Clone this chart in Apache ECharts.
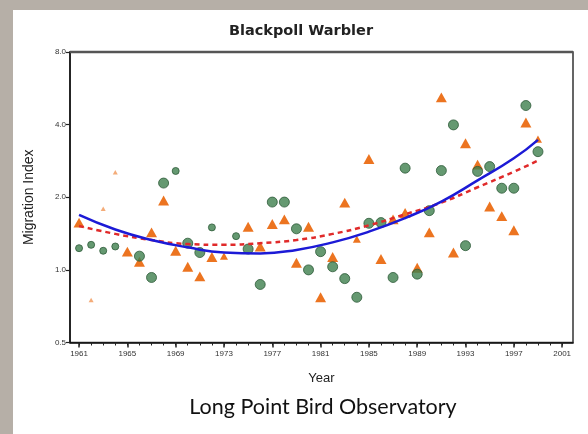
<!DOCTYPE html>
<html>
<head>
<meta charset="utf-8">
<script src="https://cdn.jsdelivr.net/npm/echarts@6/dist/echarts.min.js"></script>
<style>
html,body{margin:0;padding:0;background:#b6afa7;}
#chart{width:588px;height:434px;}
</style>
</head>
<body>
<div id="chart"></div>
<script>
// ---- data ----
const greenYears  = [1961,1962,1963,1964,1966,1967,1968,1969,1970,1971,1972,1974,1975,1976,1977,1978,1979,1980,1981,1982,1983,1984,1985,1986,1987,1988,1989,1990,1991,1992,1993,1994,1995,1996,1997,1998,1999];
const greenValues = [1.23,1.27,1.20,1.25,1.14,0.93,2.29,2.57,1.29,1.18,1.50,1.38,1.22,0.87,1.91,1.91,1.48,1.00,1.19,1.03,0.92,0.77,1.56,1.57,0.93,2.64,0.96,1.76,2.58,3.99,1.26,2.56,2.68,2.18,2.18,4.80,3.09];
const greenWeight = [2,2,2,2,3,3,3,2,3,3,2,2,3,3,3,3,3,3,3,3,3,3,3,3,3,3,3,3,3,3,3,3,3,3,3,3,3];

const orangeYears  = [1961,1962,1963,1964,1965,1966,1967,1968,1969,1970,1971,1972,1973,1975,1976,1977,1978,1979,1980,1981,1982,1983,1984,1985,1986,1987,1988,1989,1990,1991,1992,1993,1994,1995,1996,1997,1998,1999];
const orangeValues = [1.57,0.75,1.79,2.54,1.19,1.08,1.43,1.94,1.20,1.03,0.94,1.13,1.14,1.51,1.25,1.55,1.62,1.07,1.51,0.77,1.13,1.90,1.34,2.88,1.11,1.62,1.72,1.02,1.43,5.19,1.18,3.35,2.73,1.83,1.67,1.46,4.08,3.48];
const orangeWeight = [3,1,1,1,3,3,3,3,3,3,3,3,2,3,3,3,3,3,3,3,3,3,2,3,3,3,3,3,3,3,3,3,3,3,3,3,3,2];

const blueYears  = [1961,1964,1967,1970,1973,1976,1979,1982,1985,1988,1991,1994,1997,1999];
const blueValues = [1.69,1.47,1.33,1.24,1.18,1.17,1.21,1.30,1.44,1.64,1.92,2.35,2.90,3.46];
const redYears   = [1961,1964,1967,1970,1973,1976,1979,1982,1985,1988,1991,1994,1997,1999];
const redValues  = [1.52,1.41,1.33,1.28,1.27,1.29,1.33,1.41,1.53,1.70,1.90,2.20,2.55,2.84];

const xTickYears  = Array.from({length: 41}, (_, i) => 1961 + i);
const xLabelYears = [1961,1965,1969,1973,1977,1981,1985,1989,1993,1997,2001];
const yTicks      = [0.5,1,2,4,8];

const titleText  = 'Blackpoll Warbler';
const sourceText = 'Long Point Bird Observatory';
const xName = 'Year';
const yName = 'Migration Index';

// ---- chart ----
const chart = echarts.init(document.getElementById('chart'), null, {renderer: 'canvas'});
const zip = (xs, ys) => xs.map((x, i) => [x, ys[i]]);
const gSize = [0, 5, 7, 10];
const oSize = [0, 5, 8, 11];

const option = {
  animation: false,
  backgroundColor: '#b6afa7',
  graphic: [{
    type: 'rect', z: -10, silent: true,
    shape: {x: 13, y: 10, width: 575, height: 424},
    style: {fill: '#ffffff'}
  }, {
    type: 'line', z: 10, silent: true,
    shape: {x1: 70, y1: 52, x2: 573, y2: 52},
    style: {stroke: '#555', lineWidth: 2.5}
  }],
  title: [{
    text: titleText, left: 296, top: 19, textAlign: 'center',
    textStyle: {fontFamily: 'DejaVu Sans', fontWeight: 'bold', fontSize: 14.5, color: '#222'}
  }, {
    text: sourceText, left: 318, top: 391, textAlign: 'center',
    textStyle: {fontFamily: 'Lato', fontWeight: 'normal', fontSize: 21.5, color: '#111'}
  }],
  grid: {
    left: 70, right: 15, top: 52, bottom: 91.5,
    show: true, borderColor: '#333', borderWidth: 1.5, backgroundColor: 'transparent'
  },
  xAxis: [{
    type: 'value', min: 1960.25, max: 2001.9,
    name: xName, nameLocation: 'middle', nameGap: 29,
    nameTextStyle: {fontFamily: 'Liberation Sans', fontSize: 13, color: '#222'},
    axisLine: {show: true, lineStyle: {color: '#111', width: 1.5}},
    axisTick: {show: true, customValues: xTickYears, length: 3, lineStyle: {color: '#222', width: 1}},
    axisLabel: {show: true, customValues: xLabelYears, fontFamily: 'Liberation Sans', fontSize: 8, color: '#333', margin: 7,
      formatter: v => String(Math.round(v))},
    splitLine: {show: false}
  }, {
    type: 'value', min: 1960.25, max: 2001.9, position: 'bottom', gridIndex: 0,
    axisLine: {show: false},
    axisTick: {show: true, customValues: xLabelYears, length: 5, lineStyle: {color: '#222', width: 1.5}},
    axisLabel: {show: false},
    splitLine: {show: false}
  }],
  yAxis: {
    type: 'log', logBase: 2, min: 0.5, max: 8,
    name: yName, nameLocation: 'middle', nameGap: 34, nameRotate: 90,
    nameTextStyle: {fontFamily: 'Liberation Sans', fontSize: 14, color: '#222'},
    axisLine: {show: true, lineStyle: {color: '#111', width: 1.5}},
    axisTick: {show: true, customValues: yTicks, length: 4, lineStyle: {color: '#222', width: 1.2}},
    axisLabel: {show: true, customValues: yTicks, fontFamily: 'Liberation Sans', fontSize: 8, color: '#333', margin: 4,
      formatter: v => Number(v).toFixed(1)},
    splitLine: {show: false}
  },
  series: [{
    type: 'scatter', name: 'orange', symbol: 'triangle',
    data: zip(orangeYears, orangeValues).map((d, i) => ({value: d, symbolSize: [oSize[orangeWeight[i]], oSize[orangeWeight[i]] * 0.9],
      itemStyle: {opacity: orangeWeight[i] === 1 ? 0.6 : 1}})),
    itemStyle: {color: '#ec7420'},
    z: 3
  }, {
    type: 'scatter', name: 'green', symbol: 'circle',
    data: zip(greenYears, greenValues).map((d, i) => ({value: d, symbolSize: gSize[greenWeight[i]]})),
    itemStyle: {color: '#3f7f4d', borderColor: '#2d5a38', borderWidth: 1},
    z: 4
  }, {
    type: 'line', name: 'fit2', data: zip(redYears, redValues), smooth: 0.5, showSymbol: false,
    lineStyle: {color: '#e02a2a', width: 2.5, type: [5, 4]},
    z: 5
  }, {
    type: 'line', name: 'fit1', data: zip(blueYears, blueValues), smooth: 0.5, showSymbol: false,
    lineStyle: {color: '#1c1ad6', width: 2.5},
    z: 6
  }]
};
chart.setOption(option);
</script>
</body>
</html>
